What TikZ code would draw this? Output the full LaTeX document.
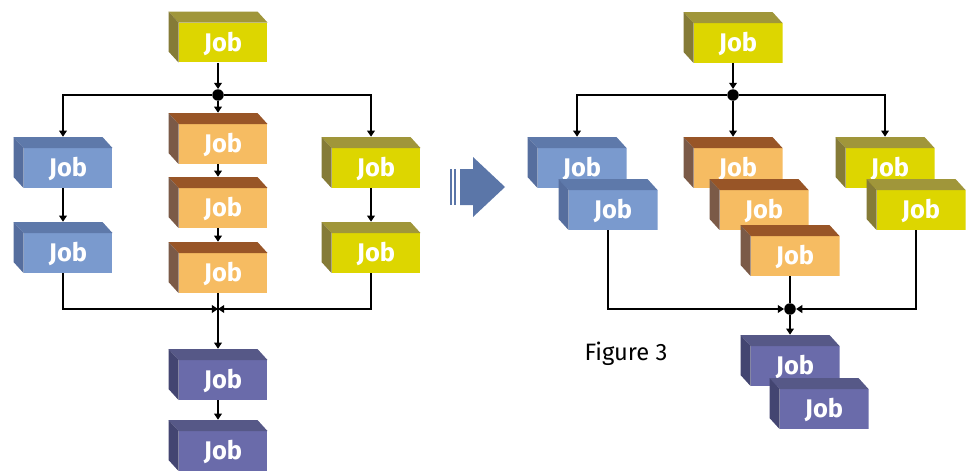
\documentclass[tikz,border=0pt]{standalone}
\usepackage{fontspec}
\setmainfont{Fira Sans}
\usetikzlibrary{arrows.meta}
\usetikzlibrary{calc}

\definecolor{yellowFront}{HTML}{DDD600}
\definecolor{yellowTop}{HTML}{A0963A}
\definecolor{yellowSide}{HTML}{857B37}
\definecolor{orangeFront}{HTML}{F6BC62}
\definecolor{orangeTop}{HTML}{985527}
\definecolor{orangeSide}{HTML}{7B5A47}
\definecolor{blueFront}{HTML}{7A9ACE}
\definecolor{blueTop}{HTML}{5E79AA}
\definecolor{blueSide}{HTML}{566E9E}
\definecolor{purpleFront}{HTML}{6A6BAA}
\definecolor{purpleTop}{HTML}{565887}
\definecolor{purpleSide}{HTML}{434571}
\definecolor{arrowBlue}{HTML}{5B76A8}

\begin{document}
\begin{tikzpicture}[x=0.02cm,y=-0.02cm]

\tikzset{jobBox/.style={rectangle,minimum width=1.98cm,minimum height=1.02cm,inner sep=0pt,text=white,font=\fontsize{14.5pt}{16pt}\selectfont\bfseries,text height=16.4pt,text depth=0pt,execute at begin node={\hspace*{5.7pt}},
	path picture={
		\fill[#1Front] ($(path picture bounding box.north west)+(10,11)$) rectangle (path picture bounding box.south east);
		\fill[#1Top] (path picture bounding box.north west) -- ($(path picture bounding box.north east)+(-10,0)$) -- ($(path picture bounding box.north east)+(0,11)$) -- ($(path picture bounding box.north west)+(10,11)$) -- cycle;
		\fill[#1Side] (path picture bounding box.north west) -- ($(path picture bounding box.north west)+(10,11)$) -- ($(path picture bounding box.south west)+(10,0)$) -- ($(path picture bounding box.south west)+(0,-11)$) -- cycle;
	}}}
\tikzstyle{link}=[-{Triangle[width=4.5pt,length=3.5pt]},line width=0.6pt];
\tikzstyle{plain}=[line width=0.6pt];
\tikzstyle{dotNode}=[circle,fill=black,minimum size=0.23cm,inner sep=0pt];

\useasboundingbox (0,0) rectangle (969,470);

%% left: one job per branch
\node [jobBox=yellow] (topL) at (218,37) {Job};
\node [dotNode] (splitL) at (218,95) {};

\node [jobBox=blue] (blueA) at (63,162.5) {Job};
\node [jobBox=blue] (blueB) at (63,247.5) {Job};

\node [jobBox=orange] (orangeA) at (218,138.5) {Job};
\node [jobBox=orange] (orangeB) at (218,202.5) {Job};
\node [jobBox=orange] (orangeC) at (218,267.5) {Job};

\node [jobBox=yellow] (yellowA) at (371,162.5) {Job};
\node [jobBox=yellow] (yellowB) at (371,247.5) {Job};

\coordinate (mergeL) at (218,309);

\node [jobBox=purple] (purpleA) at (218,374.5) {Job};
\node [jobBox=purple] (purpleB) at (218,445.5) {Job};

\draw [link] (topL) -- (splitL);
\draw [link] (splitL) -| (blueA.north);
\draw [link] (splitL) -- (orangeA.north);
\draw [link] (splitL) -| (yellowA.north);
\draw [link] (blueA) -- (blueB);
\draw [link] (orangeA) -- (orangeB);
\draw [link] (orangeB) -- (orangeC);
\draw [link] (yellowA) -- (yellowB);
\draw [link] (blueB.south) |- (mergeL);
\draw [link] (yellowB.south) |- (mergeL);
\draw [link] (orangeC.south) -- (purpleA.north);
\draw [link] (purpleA) -- (purpleB);

%% the big arrow
\fill[arrowBlue] (450,169) rectangle (452.3,205);
\fill[arrowBlue] (454,169) rectangle (456.3,205);
\fill[arrowBlue] (460,169) -- (473,169) -- (473,157) -- (505,187) -- (473,217) -- (473,205) -- (460,205) -- cycle;

%% right: jobs run in parallel
\node [jobBox=yellow] (topR) at (733,37.5) {Job};
\node [dotNode] (splitR) at (733,95) {};

\node [jobBox=blue] (blueRA) at (577,162.5) {Job};
\node [jobBox=blue] (blueRB) at (608,204.5) {Job};

\node [jobBox=orange] (orangeRA) at (733,162.5) {Job};
\node [jobBox=orange] (orangeRB) at (759,204.5) {Job};
\node [jobBox=orange] (orangeRC) at (790,250.5) {Job};

\node [jobBox=yellow] (yellowRA) at (885,162.5) {Job};
\node [jobBox=yellow] (yellowRB) at (916,204.5) {Job};

\node [dotNode] (mergeR) at (790,309) {};

\node [jobBox=purple] (purpleRA) at (790,360.5) {Job};
\node [jobBox=purple] (purpleRB) at (819,403.5) {Job};

\node [font=\fontsize{13.5pt}{16pt}\selectfont] (figLabel) at (626,354) {Figure 3};

\draw [link] (topR) -- (splitR);
\draw [link] (splitR) -| (blueRA.north);
\draw [link] (splitR) -- (orangeRA.north);
\draw [link] (splitR) -| (yellowRA.north);
\draw [link] (blueRB.south) |- (mergeR);
\draw [link] (yellowRB.south) |- (mergeR);
\draw [plain] (orangeRC.south) -- (mergeR);
\draw [link] (mergeR) -- (purpleRA.north);

\end{tikzpicture}
\end{document}
